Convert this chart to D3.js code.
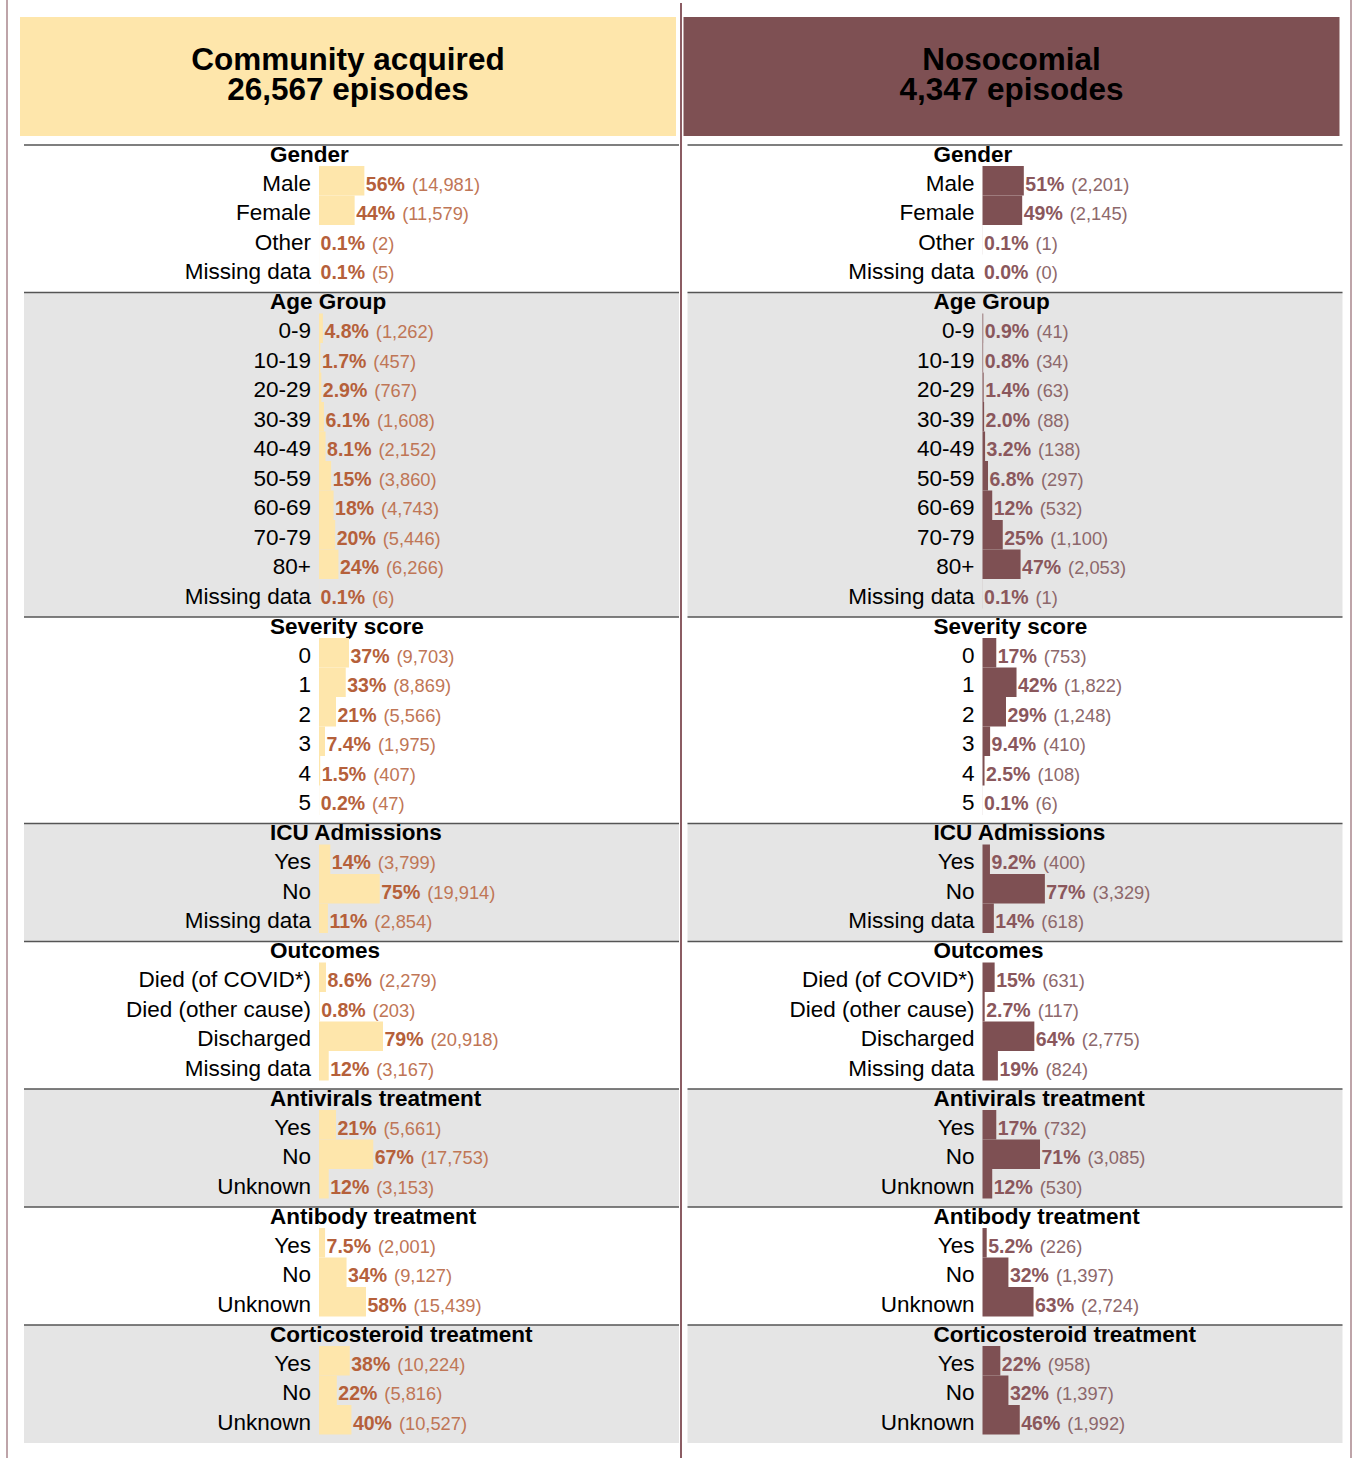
<!DOCTYPE html>
<html>
<head>
<meta charset="utf-8">
<script src="https://cdn.jsdelivr.net/npm/d3@7"></script>
<style>
  body { margin: 0; background: #fff; }
  svg { display: block; font-family: "Liberation Sans", Arial, sans-serif; }
</style>
</head>
<body>
<svg id="chart" width="1355" height="1458"></svg>
<script>
const sectionTitles = ['Gender', 'Age Group', 'Severity score', 'ICU Admissions', 'Outcomes',
  'Antivirals treatment', 'Antibody treatment', 'Corticosteroid treatment'];

const categories = [
  ['Male', 'Female', 'Other', 'Missing data'],
  ['0-9', '10-19', '20-29', '30-39', '40-49', '50-59', '60-69', '70-79', '80+', 'Missing data'],
  ['0', '1', '2', '3', '4', '5'],
  ['Yes', 'No', 'Missing data'],
  ['Died (of COVID*)', 'Died (other cause)', 'Discharged', 'Missing data'],
  ['Yes', 'No', 'Unknown'],
  ['Yes', 'No', 'Unknown'],
  ['Yes', 'No', 'Unknown']
];

const communityPct = [
  ['56%', '44%', '0.1%', '0.1%'],
  ['4.8%', '1.7%', '2.9%', '6.1%', '8.1%', '15%', '18%', '20%', '24%', '0.1%'],
  ['37%', '33%', '21%', '7.4%', '1.5%', '0.2%'],
  ['14%', '75%', '11%'],
  ['8.6%', '0.8%', '79%', '12%'],
  ['21%', '67%', '12%'],
  ['7.5%', '34%', '58%'],
  ['38%', '22%', '40%']
];
const communityCounts = [
  ['14,981', '11,579', '2', '5'],
  ['1,262', '457', '767', '1,608', '2,152', '3,860', '4,743', '5,446', '6,266', '6'],
  ['9,703', '8,869', '5,566', '1,975', '407', '47'],
  ['3,799', '19,914', '2,854'],
  ['2,279', '203', '20,918', '3,167'],
  ['5,661', '17,753', '3,153'],
  ['2,001', '9,127', '15,439'],
  ['10,224', '5,816', '10,527']
];

const nosocomialPct = [
  ['51%', '49%', '0.1%', '0.0%'],
  ['0.9%', '0.8%', '1.4%', '2.0%', '3.2%', '6.8%', '12%', '25%', '47%', '0.1%'],
  ['17%', '42%', '29%', '9.4%', '2.5%', '0.1%'],
  ['9.2%', '77%', '14%'],
  ['15%', '2.7%', '64%', '19%'],
  ['17%', '71%', '12%'],
  ['5.2%', '32%', '63%'],
  ['22%', '32%', '46%']
];
const nosocomialCounts = [
  ['2,201', '2,145', '1', '0'],
  ['41', '34', '63', '88', '138', '297', '532', '1,100', '2,053', '1'],
  ['753', '1,822', '1,248', '410', '108', '6'],
  ['400', '3,329', '618'],
  ['631', '117', '2,775', '824'],
  ['732', '3,085', '530'],
  ['226', '1,397', '2,724'],
  ['958', '1,397', '1,992']
];

const panels = [
  { title: 'Community acquired', episodes: '26,567 episodes', pct: communityPct, counts: communityCounts,
    offset: 0, fill: '#fee6ab', pctColor: '#b5603a', countColor: '#bf7656' },
  { title: 'Nosocomial', episodes: '4,347 episodes', pct: nosocomialPct, counts: nosocomialCounts,
    offset: 663.5, fill: '#7e5053', pctColor: '#8a575c', countColor: '#8d686b' }
];

const ROW = 29.5;
const TOP = 145;

const svg = d3.select('#chart');

// frame lines
svg.append('line').attr('x1', 7).attr('x2', 7).attr('y1', 0).attr('y2', 1458)
  .attr('stroke', '#a9868c').attr('stroke-width', 1.5);
svg.append('line').attr('x1', 1351).attr('x2', 1351).attr('y1', 0).attr('y2', 1458)
  .attr('stroke', '#a9868c').attr('stroke-width', 1.5);

// section start rows
const startRow = [];
let acc = 0;
categories.forEach(c => { startRow.push(acc); acc += c.length + 1; });
const y = d3.scaleLinear().domain([0, acc]).range([TOP, TOP + ROW * acc]);

const x = d3.scaleLinear().domain([0, 100]).range([0, 81]);

panels.forEach(p => {
  const g = svg.append('g').attr('transform', `translate(${p.offset},0)`);

  g.append('rect')
    .attr('x', 20).attr('y', 17)
    .attr('width', 656).attr('height', 119)
    .attr('fill', p.fill);

  const head = g.append('text')
    .attr('x', 348).attr('text-anchor', 'middle')
    .attr('font-size', 31.5).attr('font-weight', 'bold').attr('fill', '#000');
  head.append('tspan').attr('x', 348).attr('y', 70).text(p.title);
  head.append('tspan').attr('x', 348).attr('y', 100).text(p.episodes);

  const sec = g.selectAll('g.section')
    .data(sectionTitles)
    .join('g')
    .attr('class', 'section')
    .attr('transform', (d, i) => `translate(0,${y(startRow[i])})`);

  sec.append('rect')
    .attr('x', 24).attr('y', 0)
    .attr('width', 655)
    .attr('height', (d, i) => y(categories[i].length + 1) - y(0))
    .attr('fill', (d, i) => i % 2 === 1 ? '#e5e5e5' : '#fff');

  sec.append('line')
    .attr('x1', 24).attr('x2', 679)
    .attr('y1', 0).attr('y2', 0)
    .attr('stroke', '#555').attr('stroke-width', 1.5);

  sec.append('text')
    .attr('x', 270).attr('y', 16.5)
    .attr('font-size', 22.5).attr('font-weight', 'bold')
    .attr('fill', '#000')
    .text(d => d);

  sec.each(function (d, i) {
    const rows = categories[i].map((c, j) => ({
      label: c, pct: p.pct[i][j], count: p.counts[i][j], value: parseFloat(p.pct[i][j])
    }));
    const s = d3.select(this);

    const row = s.selectAll('g.row')
      .data(rows)
      .join('g')
      .attr('class', 'row')
      .attr('transform', (r, j) => `translate(0,${21 + j * ROW})`);

    row.append('rect')
      .attr('x', 319).attr('y', 0)
      .attr('width', r => x(r.value))
      .attr('height', ROW)
      .attr('fill', p.fill);

    row.append('text')
      .attr('x', 311).attr('y', 24.8)
      .attr('text-anchor', 'end')
      .attr('font-size', 22.5)
      .attr('fill', '#000')
      .text(r => r.label);

    const t = row.append('text')
      .attr('x', r => 319 + x(r.value) + 1.5)
      .attr('y', 24.8);
    t.append('tspan')
      .attr('font-size', 19.5).attr('font-weight', 'bold')
      .attr('fill', p.pctColor)
      .text(r => r.pct);
    t.append('tspan')
      .attr('dx', 7)
      .attr('font-size', 18.3)
      .attr('fill', p.countColor)
      .text(r => `(${r.count})`);
  });
});

// centre divider
svg.append('line').attr('x1', 681).attr('x2', 681).attr('y1', 3).attr('y2', 1458)
  .attr('stroke', '#8b5c63').attr('stroke-width', 2);
</script>
</body>
</html>
